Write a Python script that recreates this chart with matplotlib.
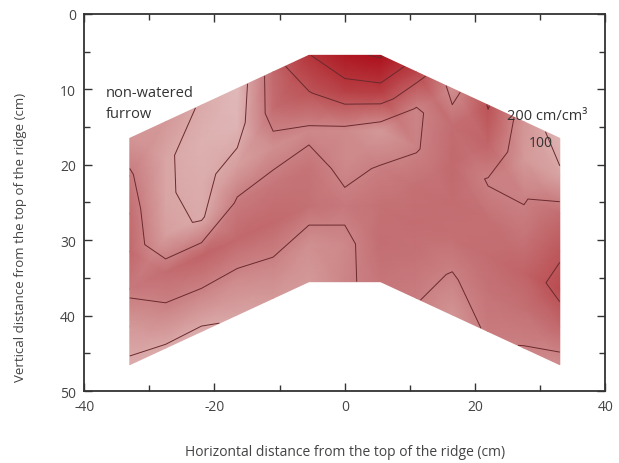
import numpy as np
import matplotlib
matplotlib.use("Agg")
import matplotlib.pyplot as plt
from matplotlib.colors import LinearSegmentedColormap
from matplotlib.ticker import MultipleLocator

plt.rcParams['font.family'] = ['Open Sans', 'DejaVu Sans']
plt.rcParams['axes.unicode_minus'] = False

# sampling positions across the ridge (cm) and depth below the soil surface (cm)
x_pos = [-33, -27.5, -22, -16.5, -11, -5.5, 0, 5.5, 11, 16.5, 22, 27.5, 33]
depth = [0, 5, 10, 15, 20, 25, 30]
# soil surface (vertical distance from ridge top) at each sampling column
surface = [16.5, 14.3, 12.1, 9.9, 7.7, 5.5, 5.5, 5.5, 7.7, 9.9, 12.1, 14.3, 16.5]

# root length density, one row per depth
rld_0 = [160, 150, 90, 40, 250, 395, 480, 510, 345, 170, 305, 160, 60]
rld_5 = [210, 110, 70, 60, 240, 295, 350, 360, 190, 240, 260, 150, 115]
rld_10 = [240, 108, 80, 130, 170, 185, 180, 150, 195, 245, 195, 195, 240]
rld_15 = [250, 130, 90, 210, 220, 225, 185, 205, 230, 240, 230, 220, 290]
rld_20 = [215, 240, 260, 250, 250, 230, 215, 230, 240, 230, 240, 260, 325]
rld_25 = [150, 190, 190, 185, 195, 170, 185, 235, 225, 195, 225, 230, 250]
rld_30 = [85, 90, 85, 115, 150, 150, 190, 220, 205, 160, 210, 198, 175]

levels = [100, 200, 300, 400, 500]

Z = np.array([rld_0, rld_5, rld_10, rld_15, rld_20, rld_25, rld_30], dtype=float)
X, D = np.meshgrid(x_pos, depth)
Y = np.array(surface)[None, :] + D

cmap = LinearSegmentedColormap.from_list("rld", [
    (0.0, "#e2bcbc"),
    (0.25, "#d49898"),
    (0.41, "#c47074"),
    (0.55, "#bc5458"),
    (0.75, "#b5343a"),
    (1.0, "#ac0c18"),
])

fig, ax = plt.subplots(figsize=(6.19, 4.64), dpi=100)
fig.subplots_adjust(left=0.136, right=0.978, bottom=0.155, top=0.968)

ax.pcolormesh(X, Y, Z, shading='gouraud', cmap=cmap, vmin=30, vmax=520)
ax.contour(X, Y, Z, levels=levels, colors='#6a2a2e', linewidths=0.7)

ax.set_xlim(-40, 40)
ax.set_ylim(50, 0)
ax.xaxis.set_major_locator(MultipleLocator(20))
ax.xaxis.set_minor_locator(MultipleLocator(10))
ax.yaxis.set_major_locator(MultipleLocator(10))
ax.yaxis.set_minor_locator(MultipleLocator(5))
ax.tick_params(which='both', direction='in', top=True, right=True, colors='#333333',
               labelcolor='#444444', labelsize=10)
ax.tick_params(which='major', length=6, width=1.0)
ax.tick_params(which='minor', length=4, width=1.0)
ax.tick_params(axis='x', pad=6)
ax.tick_params(axis='y', pad=6)
for s in ax.spines.values():
    s.set_color('#333333')
    s.set_linewidth(1.3)

ax.set_xlabel('Horizontal distance from the top of the ridge (cm)', fontsize=10, color='#444444')
ax.set_ylabel('Vertical distance from the top of the ridge (cm)', fontsize=9.5, color='#444444')
ax.xaxis.set_label_coords(0.5, -0.14)
ax.yaxis.set_label_coords(-0.11, 0.41)

ax.text(-36.7, 11.8, 'non-watered\nfurrow', fontsize=10.5, color='#333333',
        ha='left', va='center', linespacing=1.5)
ax.text(24.9, 13.5, '200 cm/cm³', fontsize=10.5, color='#333333', ha='left', va='center')
ax.text(28.3, 17.1, '100', fontsize=10, color='#333333', ha='left', va='center')

fig.savefig('out.png', dpi=100)
